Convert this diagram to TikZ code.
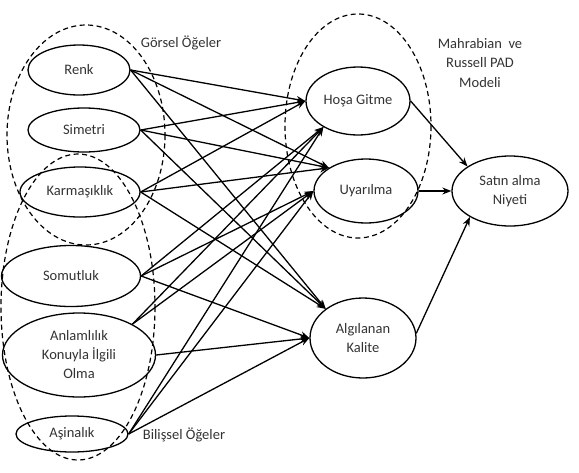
\documentclass[tikz,border=0pt]{standalone}
\usepackage{fontspec}
\setmainfont{Carlito}
\usetikzlibrary{shapes.geometric,arrows.meta}
\begin{document}
\begin{tikzpicture}[x=1pt,y=-1pt,
  oval/.style={ellipse, draw=black, line width=1.3pt, inner sep=0pt, align=center, text=black!80, font=\fontsize{14.5}{19}\selectfont},
  grp/.style={draw=black, line width=1.2pt, dash pattern=on 5pt off 3.5pt},
  lbl/.style={align=center, text=black!80, font=\fontsize{14.5}{19.5}\selectfont},
  pil/.style={line width=1.3pt, -{Stealth[length=9pt,width=7pt]}}]
\useasboundingbox (0,0) rectangle (579,472);
\draw [grp] (86,135) ellipse [x radius=79, y radius=110];
\draw [grp] (78,307) ellipse [x radius=77, y radius=153];
\draw [grp] (358,126) ellipse [x radius=73, y radius=112];
\node [oval, minimum width=102pt, minimum height=50pt] (renk) at (79,70) {Renk};
\node [oval, minimum width=112pt, minimum height=44pt] (simetri) at (84,130) {Simetri};
\node [oval, minimum width=120pt, minimum height=50pt] (karmasik) at (80,192) {Karmaşıklık};
\node [oval, minimum width=139pt, minimum height=61pt] (somut) at (71,276) {Somutluk};
\node [oval, minimum width=153pt, minimum height=84pt] (anlam) at (79,355) {Anlamlılık\\Konuyla İlgili\\Olma};
\node [oval, minimum width=112pt, minimum height=36pt] (asina) at (72,434) {Aşinalık};
\node [oval, minimum width=104pt, minimum height=68pt] (hosa) at (358,101) {Hoşa Gitme};
\node [oval, minimum width=104pt, minimum height=64pt] (uyar) at (366,191) {Uyarılma};
\node [oval, minimum width=106pt, minimum height=80pt] (kalite) at (363,338) {Algılanan\\Kalite};
\node [oval, minimum width=116pt, minimum height=70pt] (niyet) at (510,191) {Satın alma\\Niyeti};
\node [lbl] (gorsel) at (181,43) {Görsel Öğeler};
\node [lbl] (bilissel) at (184,435) {Bilişsel Öğeler};
\node [lbl] (pad) at (480,63) {Mahrabian~ ve\\Russell PAD\\Modeli};
\draw [pil] (renk.east) -- (hosa.west);
\draw [pil] (renk.east) -- (uyar.148);
\draw [pil] (renk.east) -- (kalite.142);
\draw [pil] (simetri.east) -- (hosa.west);
\draw [pil] (simetri.east) -- (uyar.148);
\draw [pil] (simetri.east) -- (kalite.142);
\draw [pil] (karmasik.east) -- (hosa.west);
\draw [pil] (karmasik.east) -- (uyar.148);
\draw [pil] (karmasik.east) -- (kalite.142);
\draw [pil] (somut.east) -- (hosa.217);
\draw [pil] (somut.east) -- (uyar.west);
\draw [pil] (somut.east) -- (kalite.west);
\draw [pil] (anlam.30) -- (hosa.217);
\draw [pil] (anlam.30) -- (uyar.west);
\draw [pil] (anlam.east) -- (kalite.west);
\draw [pil] (asina.east) -- (hosa.217);
\draw [pil] (asina.east) -- (uyar.west);
\draw [pil] (asina.east) -- (kalite.west);
\draw [pil] (hosa.east) -- (niyet.150);
\draw [pil] (uyar.east) -- (niyet.west);
\draw [pil] (kalite.5) -- (niyet.213);
\end{tikzpicture}
\end{document}
